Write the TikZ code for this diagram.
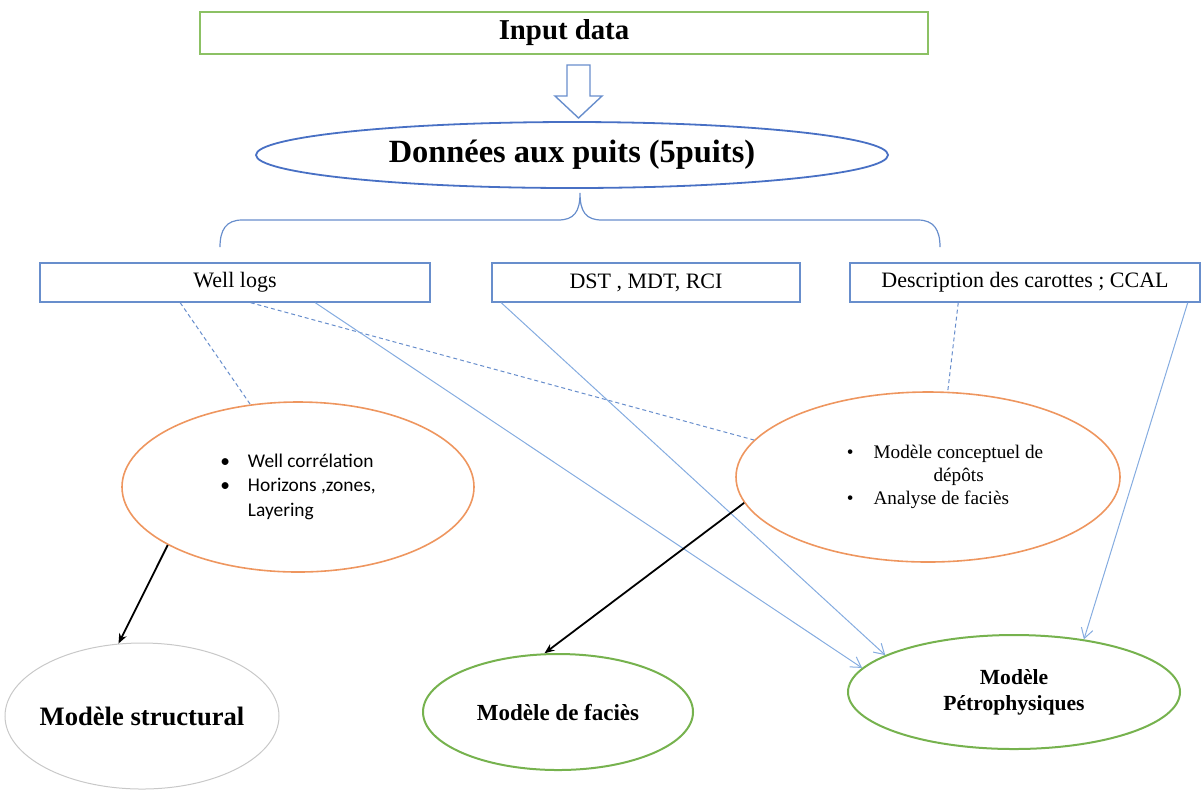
\documentclass[tikz,border=0pt]{standalone}
\usepackage{fontspec}
\setmainfont{Liberation Serif}
\newfontfamily\calibri{Carlito}
\usetikzlibrary{shapes.geometric,arrows.meta,calc}
\definecolor{boxblue}{RGB}{104,142,204}
\definecolor{lineblue}{RGB}{133,172,224}
\definecolor{darkblue}{RGB}{72,112,196}
\definecolor{boxgreen}{RGB}{140,193,100}
\definecolor{ellgreen}{RGB}{118,178,78}
\definecolor{ellorange}{RGB}{238,150,95}
\definecolor{ellgray}{RGB}{200,200,200}
\begin{document}
\begin{tikzpicture}[x=0.5pt,y=-0.5pt,
  databox/.style={draw=boxblue, line width=0.7pt, minimum height=19.5pt, inner sep=0pt, font=\fontsize{11}{13}\selectfont},
  task/.style={ellipse, draw=ellorange, line width=0.8pt, inner sep=0pt},
  model/.style={ellipse, draw=ellgreen, line width=1pt, inner sep=0pt, align=center},
  flow/.style={draw=lineblue, line width=0.5pt, -{Straight Barb[length=5pt,width=6pt]}},
  link/.style={draw=boxblue, line width=0.5pt, dash pattern=on 2pt off 1.5pt},
  feed/.style={draw=black, line width=0.9pt, -{Stealth[length=5pt,width=4pt]}}]
  \useasboundingbox (0,0) rectangle (1202,789);
  % top of the chart
  \node[draw=boxgreen, line width=0.8pt, minimum width=364pt, minimum height=21pt, inner sep=0pt, font=\fontsize{14.4}{16}\selectfont\bfseries] (input) at (564,33) {Input data};
  \draw[draw=boxblue, line width=0.7pt] (567,65) -- (590,65) -- (590,96) -- (602,96) -- (578.5,118) -- (555,96) -- (567,96) -- cycle;
  \node[ellipse, draw=darkblue, line width=0.9pt, minimum width=316pt, minimum height=33pt, inner sep=0pt, font=\fontsize{16.2}{18}\selectfont\bfseries] (puits) at (572,155) {Données aux puits (5puits)};
  \draw[draw=boxblue, line width=0.6pt] (220,247) .. controls (220,230) and (226,220) .. (242,220) -- (558,220) .. controls (574,220) and (580,212) .. (580,193) .. controls (580,212) and (586,220) .. (602,220) -- (918,220) .. controls (934,220) and (940,230) .. (940,247);
  % data boxes
  \node[databox, minimum width=195pt] (logs) at (235,282.5) {Well logs};
  \node[databox, minimum width=154pt] (dst) at (646,282.5) {DST , MDT, RCI};
  \node[databox, minimum width=175pt] (core) at (1025,282.5) {Description des carottes ; CCAL};
  % interpretation
  \node[task, minimum width=176pt, minimum height=85pt, font=\calibri\fontsize{9.7}{12.3}\selectfont] (corr) at (298,487)
    {\begin{tabular}{@{}l@{\hspace{9pt}}l@{}}\textbullet & Well corrélation\\ \textbullet & Horizons ,zones,\\ & Layering\end{tabular}};
  \node[task, minimum width=192pt, minimum height=85pt, font=\fontsize{9.6}{11.3}\selectfont] (depot) at (928,477)
    {\begin{tabular}{@{\hspace{17pt}}l@{\hspace{10pt}}l@{}}\textbullet & Modèle conceptuel de\\ & \hspace{30pt}dépôts\\ \textbullet & Analyse de faciès\end{tabular}};
  % models
  \node[ellipse, draw=ellgray, line width=0.5pt, minimum width=137pt, minimum height=73pt, inner xsep=-30pt, inner ysep=0pt, font=\fontsize{13.3}{15}\selectfont\bfseries] (struct) at (142,716) {Modèle structural};
  \node[model, minimum width=135pt, minimum height=58pt, font=\fontsize{11.5}{13}\selectfont\bfseries] (facies) at (558,712) {Modèle de faciès};
  \node[model, minimum width=166pt, minimum height=57pt, font=\fontsize{10.8}{13}\selectfont\bfseries] (petro) at (1014,692) {Modèle\\Pétrophysiques};
  % connectors
  \draw[link] ($(logs.south west)!0.36!(logs.south east)$) -- (corr.120);
  \draw[link] ($(logs.south west)!0.54!(logs.south east)$) -- (depot.168);
  \draw[link] ($(core.south west)!0.31!(core.south east)$) -- (depot.77);
  \draw[flow] ($(logs.south west)!0.705!(logs.south east)$) -- (petro.171);
  \draw[flow] ($(dst.south west)!0.032!(dst.south east)$) -- (petro.164);
  \draw[flow] ($(core.south west)!0.963!(core.south east)$) -- (petro.37);
  \draw[feed] (corr.204) -- (struct.108);
  \draw[feed] (depot.188) -- (facies.103);
\end{tikzpicture}
\end{document}
